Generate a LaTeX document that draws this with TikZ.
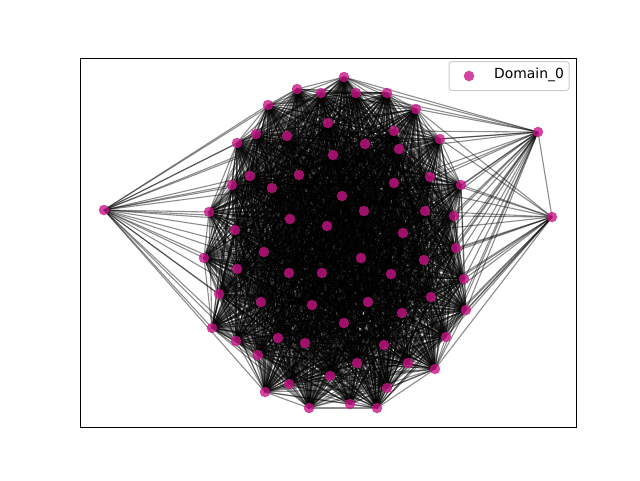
\documentclass[tikz,border=0pt]{standalone}
\usepackage{fontspec}
\setmainfont{DejaVu Sans}
\definecolor{nodecol}{RGB}{199,21,133}
\begin{document}
\begin{tikzpicture}[x=1pt,y=-1pt,
  vtx/.style={circle, fill=nodecol, fill opacity=0.8, draw=none, inner sep=0pt, minimum size=10.5pt},
  edge/.style={black, draw opacity=0.45, line width=1.1pt},
  frame/.style={draw=black, line width=1.1pt, inner sep=0pt, anchor=north west, minimum width=496pt, minimum height=369pt},
  legendbox/.style={draw=black!20, fill=white, fill opacity=0.8, draw opacity=1, rounded corners=3pt, line width=1pt, inner sep=0pt, minimum width=120pt, minimum height=29pt}]
\useasboundingbox (0,0) rectangle (640,480);
\pgfmathsetseed{7}
% positions: 1-3 outliers, 4-70 core
\foreach \x/\y [count=\k] in {104/210,538/132,552/217,
 344/77,297/89,321/93,356/93,387/93,268/105,416/109,328/123,394/131,256/134,
 287/136,237/143,440/139,365/144,399/149,333/155,250/176,299/175,430/177,232/185,
 272/188,394/183,461/185,342/196,209/212,290/219,364/211,425/211,454/216,327/226,
 235/230,403/233,456/248,264/252,204/258,361/258,424/260,237/269,289/273,322/273,
 391/274,464/279,219/294,431/297,261/302,312/305,368/302,466/310,402/313,212/328,
 344/323,446/337,236/341,278/338,305/343,384/345,258/355,357/363,408/363,435/369,
 330/376,289/384,387/388,265/392,309/408,350/404,377/408}
 {\coordinate (n\k) at (\x,\y);}
% core edges
\foreach \i in {4,...,70}{
  \foreach \j in {\i,...,70}{
    \ifnum\j>\i
      \pgfmathtruncatemacro\r{rnd*100}
      \ifnum\r<95 \draw[edge] (n\i) -- (n\j);\fi
    \fi
  }
}
% outlier edges
\foreach \j in {5,9,13,15,20,23,28,34,38,41,46,53,56,60,67,14,24,29,37,42,48,57,21,11,33}
  {\draw[edge] (n1) -- (n\j);}
\foreach \j in {4,8,10,7,12,16,22,26,32,36,45,51,55,63,18,25,31,35,40,47,52,17,30,62,59,44}
  {\draw[edge] (n2) -- (n\j);}
\foreach \j in {10,16,22,26,32,36,45,51,55,63,62,47,40,31,35,52,25,44,59,66,70,2}
  {\draw[edge] (n3) -- (n\j);}
% vertices
\foreach \k in {1,...,70}{\node[vtx] (v\k) at (n\k) {};}
% axes frame
\node[frame] (axes) at (80,58) {};
% legend
\node[legendbox] (legend) at (509,76) {};
\node[vtx] (lmark) at (469,76) {};
\node[anchor=west, inner sep=0pt, font=\fontsize{13.9}{16}\selectfont] (ltext) at (494,75) {Domain\_0};
\end{tikzpicture}
\end{document}
